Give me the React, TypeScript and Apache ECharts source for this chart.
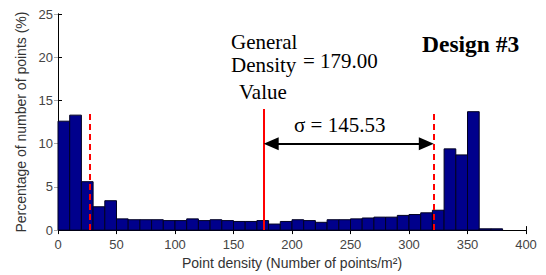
import React, { useEffect, useRef } from "react";
import * as echarts from "echarts";

// Histogram bins (left edge, width 10) and their percentages
const binStarts = [0, 10, 20, 30, 40, 50, 60, 70, 80, 90, 100, 110, 120, 130, 140, 150, 160, 170, 180, 190, 200, 210, 220, 230, 240, 250, 260, 270, 280, 290, 300, 310, 320, 330, 340, 350, 360, 370];
const percentages = [12.6, 13.3, 5.6, 2.7, 3.4, 1.3, 1.2, 1.2, 1.2, 1.1, 1.1, 1.3, 1.1, 1.2, 1.1, 1.0, 1.0, 1.1, 0.7, 1.0, 1.2, 1.1, 0.9, 1.2, 1.2, 1.3, 1.4, 1.5, 1.5, 1.7, 1.8, 2.0, 2.3, 9.4, 8.7, 13.7, 0.15, 0.15];
const binWidth = 10;

const xTicks = [0, 50, 100, 150, 200, 250, 300, 350, 400];
const yTicks = [0, 5, 10, 15, 20, 25];

// Reference lines (positions)
const generalDensityX = 176;
const sigmaLeftX = 27;
const sigmaRightX = 321;
const solidTop = 14.0;
const dashTopLeft = 13.7;
const dashTopRight = 13.85;
const arrowY = 10;

export default function App() {
  const ref = useRef<HTMLDivElement>(null);
  useEffect(() => {
    if (!ref.current) return;
    const chart = echarts.init(ref.current, null, { renderer: "svg" });
    const data = binStarts.map((s, i) => [s, s + binWidth, percentages[i]]);
    const sans = "'Liberation Sans', Arial, sans-serif";
    const serif = "'Liberation Serif', 'Times New Roman', serif";
    const arrowInset = 6.2;
    chart.setOption({
      animation: false,
      grid: { left: 58, right: 20, top: 14, bottom: 42 },
      xAxis: [
        {
          type: "value", min: xTicks[0], max: xTicks[xTicks.length - 1], interval: 50,
          name: "Point density (Number of points/m²)", nameLocation: "middle", nameGap: 24,
          nameTextStyle: { fontFamily: sans, fontSize: 14, color: "#333" },
          axisLine: { lineStyle: { color: "#000", width: 1 } },
          axisTick: { inside: true, length: 4, lineStyle: { color: "#000" } },
          axisLabel: { fontFamily: sans, fontSize: 13, color: "#444", margin: 8 },
          splitLine: { show: false },
        },
        {
          type: "value", position: "top", min: 0, max: 400, interval: 50,
          axisLine: { show: true, lineStyle: { color: "#000", width: 1 } },
          axisTick: { inside: true, length: 4, lineStyle: { color: "#000" } },
          axisLabel: { show: false }, splitLine: { show: false },
        },
      ],
      yAxis: [
        {
          type: "value", min: yTicks[0], max: yTicks[yTicks.length - 1], interval: 5,
          name: "Percentage of number of points (%)", nameLocation: "middle", nameGap: 29,
          nameTextStyle: { fontFamily: sans, fontSize: 14, color: "#333" },
          axisLine: { show: true, lineStyle: { color: "#000", width: 1 } },
          axisTick: { show: true, inside: true, length: 4, lineStyle: { color: "#000" } },
          axisLabel: { fontFamily: sans, fontSize: 13, color: "#444", margin: 5 },
          splitLine: { show: false },
        },
        {
          type: "value", position: "right", min: 0, max: 25, interval: 5,
          axisLine: { show: true, lineStyle: { color: "#000", width: 1 } },
          axisTick: { show: true, inside: true, length: 4, lineStyle: { color: "#aaa" } },
          axisLabel: { show: false }, splitLine: { show: false },
        },
      ],
      series: [
        {
          type: "custom",
          xAxisIndex: 0, yAxisIndex: 0,
          data,
          renderItem: (params: any, api: any) => {
            const p0 = api.coord([api.value(0), api.value(2)]);
            const p1 = api.coord([api.value(1), 0]);
            return {
              type: "rect",
              shape: { x: p0[0], y: p0[1], width: p1[0] - p0[0], height: p1[1] - p0[1] },
              style: { fill: "#00008c", stroke: "#000022", lineWidth: 1 },
            };
          },
          z: 2,
        },
        {
          type: "line", xAxisIndex: 0, yAxisIndex: 0, data: [], z: 5,
          markLine: {
            silent: true, symbol: "none", label: { show: false },
            data: [
              [
                { coord: [generalDensityX, 0], lineStyle: { color: "#ff0000", width: 2, type: "solid" } },
                { coord: [generalDensityX, solidTop] },
              ],
              [
                { coord: [sigmaLeftX, 0], lineStyle: { color: "#ff0000", width: 2, type: [6, 4] } },
                { coord: [sigmaLeftX, dashTopLeft] },
              ],
              [
                { coord: [sigmaRightX, 0], lineStyle: { color: "#ff0000", width: 2, type: [6, 4] } },
                { coord: [sigmaRightX, dashTopRight] },
              ],
            ],
          },
        },
        {
          type: "line", xAxisIndex: 0, yAxisIndex: 0, data: [], z: 6,
          markLine: {
            silent: true, symbol: ["triangle", "triangle"], symbolSize: [13, 15],
            label: { show: false },
            lineStyle: { color: "#000", width: 2, type: "solid" },
            data: [[{ coord: [generalDensityX + arrowInset, arrowY] }, { coord: [sigmaRightX - arrowInset, arrowY] }]],
          },
        },
      ],
      graphic: [
        { type: "text", x: 231, y: 42, style: { text: "General", font: `21px ${serif}`, fill: "#000", verticalAlign: "middle" } },
        { type: "text", x: 231, y: 65, style: { text: "Density", font: `21px ${serif}`, fill: "#000", verticalAlign: "middle" } },
        { type: "text", x: 239, y: 92, style: { text: "Value", font: `21px ${serif}`, fill: "#000", verticalAlign: "middle" } },
        { type: "text", x: 303, y: 61, style: { text: "= 179.00", font: `21px ${serif}`, fill: "#000", verticalAlign: "middle" } },
        { type: "text", x: 422, y: 44, style: { text: "Design #3", font: `bold 23.5px ${serif}`, fill: "#000", verticalAlign: "middle" } },
        { type: "text", x: 294, y: 125, style: { text: "σ = 145.53", font: `21px ${serif}`, fill: "#000", verticalAlign: "middle" } },
      ],
    });
    return () => chart.dispose();
  }, []);
  return <div ref={ref} style={{ width: 546, height: 275, position: "absolute", left: 0, top: 0, background: "#fff" }} />;
}
